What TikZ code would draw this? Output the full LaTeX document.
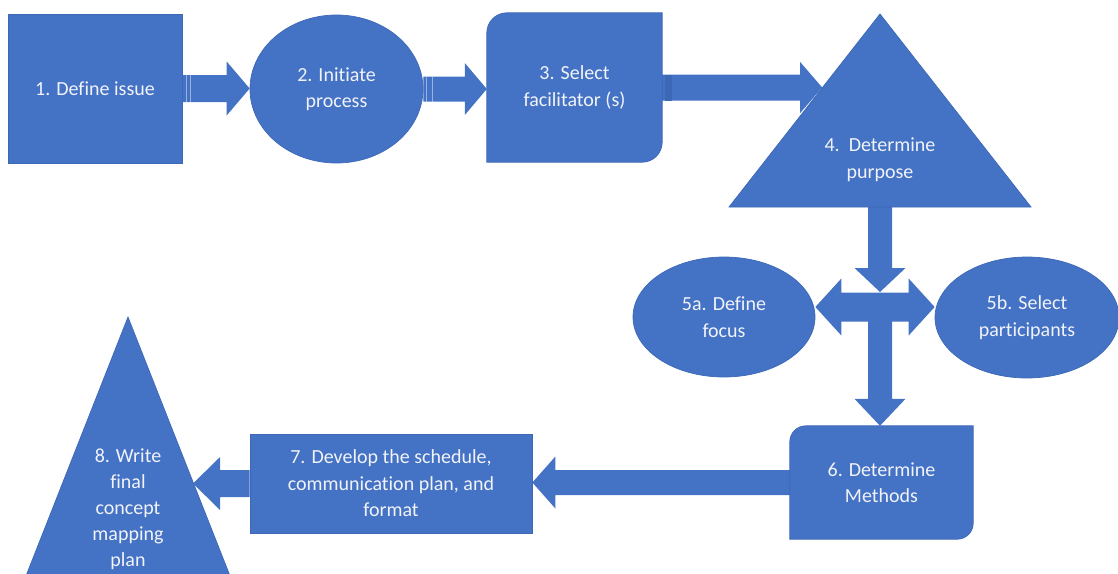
\documentclass[tikz,border=0pt]{standalone}
\usepackage{fontspec}
\setmainfont{Carlito}[Ligatures=NoCommon]
\usetikzlibrary{calc,shapes.geometric}

\definecolor{shapeblue}{HTML}{4472C4}
\definecolor{rimblue}{HTML}{3D68B6}
\definecolor{labelwhite}{HTML}{F1F3F9}

\pgfdeclarelayer{arrowlayer}
\pgfdeclarelayer{shapelayer}
\pgfsetlayers{arrowlayer,shapelayer,main}

% Horizontal block arrow: tail, tip, shaft half-width, head half-width, head length
\newcommand\harrow[5]{%
  \path[arrow body] let \p1=(#1), \p2=(#2), \n1={ifthenelse(\x2>\x1,1,-1)}, \n2={\x2-\n1*#5pt} in
    (\x1,{\y1+#3pt}) -- (\n2,{\y1+#3pt}) -- (\n2,{\y1+#4pt}) -- (\x2,\y1)
    -- (\n2,{\y1-#4pt}) -- (\n2,{\y1-#3pt}) -- (\x1,{\y1-#3pt}) -- cycle;}
% Vertical block arrow: same arguments
\newcommand\varrow[5]{%
  \path[arrow body] let \p1=(#1), \p2=(#2), \n1={ifthenelse(\y2>\y1,1,-1)}, \n2={\y2-\n1*#5pt} in
    ({\x1+#3pt},\y1) -- ({\x1+#3pt},\n2) -- ({\x1+#4pt},\n2) -- (\x1,\y2)
    -- ({\x1-#4pt},\n2) -- ({\x1-#3pt},\n2) -- ({\x1-#3pt},\y1) -- cycle;}

\begin{document}
\begin{tikzpicture}[x=1pt,y=-1pt,
  lbl/.style={text=labelwhite, font=\fontsize{20}{26.5}\selectfont, align=center, inner sep=0pt},
  solid shape/.style={fill=shapeblue, draw=rimblue, line width=0.7pt},
  arrow body/.style={fill=shapeblue},
  stripe/.style={draw=white, draw opacity=0.45, line width=0.8pt},
  flatbox/.style={lbl, solid shape, rectangle},
  oval/.style={lbl, solid shape, ellipse}]
\useasboundingbox (0,0) rectangle (1118,573);

% ---- labelled shapes ----
\node[flatbox, minimum width=174pt, minimum height=149pt] (box1) at (95,88.5) {1. Define issue};
\node[oval, minimum width=173pt, minimum height=148pt] (ell2) at (336.5,89) {2. Initiate\\process};
\node[lbl, minimum width=175pt, minimum height=149pt] (box3) at (574.5,87.5) {3. Select\\facilitator (s)};
\node[lbl] (tri4) at (880,159.5) {4.~~Determine\\purpose};
\node[oval, minimum width=182pt, minimum height=120pt] (ell5a) at (724,317) {5a. Define\\focus};
\node[oval, minimum width=184pt, minimum height=121pt] (ell5b) at (1027,317.5) {5b. Select\\participants};
\node[lbl, minimum width=183pt, minimum height=113pt] (box6) at (881.5,482.5) {6. Determine\\Methods};
\node[flatbox, minimum width=282pt, minimum height=99pt] (box7) at (391,483.5) {7. Develop the schedule,\\communication plan, and\\format};
\node[lbl, font=\fontsize{20}{26}\selectfont] (tri8) at (128,509) {8. Write\\final\\concept\\mapping\\plan};

% triangle corners and junction points
\coordinate (t4apex) at (880,14);
\coordinate (t4left) at (729,207);
\coordinate (t4right) at (1031,207);
\coordinate (t4base) at ($(t4left)!0.5!(t4right)$);
\coordinate (t4edge) at ($(t4apex)!0.383!(t4left)$);
\coordinate (t8apex) at (128,317);
\coordinate (t8left) at (22.4,585);
\coordinate (t8right) at (233.6,585);
\coordinate (t8edge) at ($(t8apex)!0.6157!(t8right)$);
\coordinate (hub) at (880,307);
\coordinate (hubtop) at (880,292);

% ---- shapes drawn without a node outline ----
\begin{pgfonlayer}{shapelayer}
  \path[solid shape] ($(box3.north west)+(0,20)$) arc[start angle=180,end angle=270,radius=20]
    -- (box3.north east) -- ($(box3.south east)+(0,-20)$) arc[start angle=0,end angle=90,radius=20]
    -- (box3.south west) -- cycle;
  \path[solid shape] ($(box6.north west)+(0,16)$) arc[start angle=180,end angle=270,radius=16]
    -- (box6.north east) -- ($(box6.south east)+(0,-16)$) arc[start angle=0,end angle=90,radius=16]
    -- (box6.south west) -- cycle;
  \path[solid shape] (t4apex) -- (t4right) -- (t4left) -- cycle;
  \path[solid shape] (t8apex) -- (t8right) -- (t8left) -- cycle;
\end{pgfonlayer}

% ---- block arrows ----
\begin{pgfonlayer}{arrowlayer}
  \harrow{box1.east}{ell2.west}{13.5}{27}{23}
  \harrow{ell2.east}{box3.west}{12.5}{26}{22}
  \harrow{box3.east}{t4edge}{13}{25.5}{22}
  \varrow{t4base}{hubtop}{12}{25.5}{24}
  \harrow{hub}{ell5a.east |- hub}{14.5}{28.5}{26}
  \harrow{hub}{ell5b.west |- hub}{14.5}{28.5}{26}
  \varrow{hub}{hub |- box6.north}{12}{25.5}{27}
  \harrow{box6.west}{box7.east}{12.5}{26}{23}
  \harrow{box7.west}{t8edge}{13.5}{26.5}{27}
  % striped tails
  \draw[stripe] ($(box1.east)+(4,-13.5)$) -- ++(0,27);
  \draw[stripe] ($(box1.east)+(8,-13.5)$) -- ++(0,27);
  \draw[stripe] ($(ell2.east)+(3,-12.5)$) -- ++(0,25);
  \draw[stripe] ($(ell2.east)+(9,-12.5)$) -- ++(0,25);
  \fill[rimblue] ($(box3.east)+(3,-13)$) rectangle ++(7,26);
\end{pgfonlayer}
\end{tikzpicture}
\end{document}
